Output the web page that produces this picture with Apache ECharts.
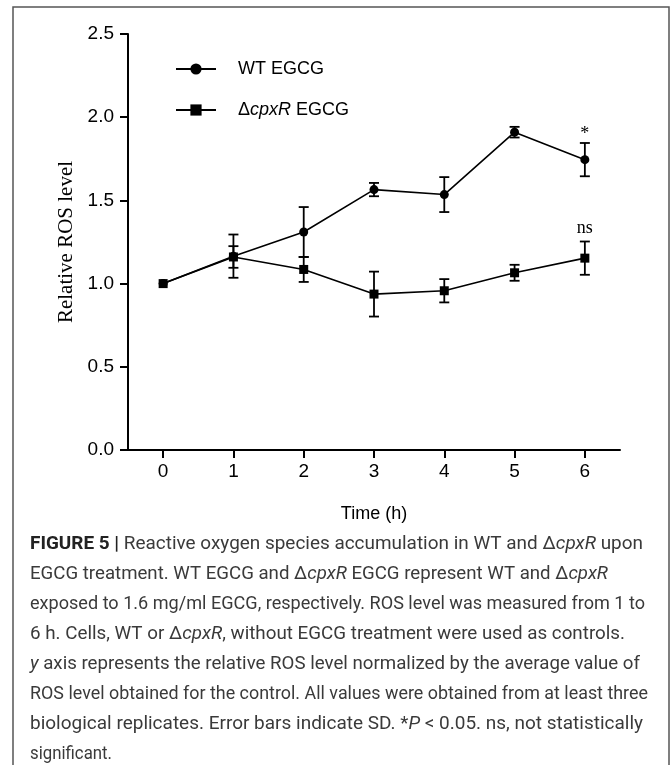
<!DOCTYPE html>
<html>
<head>
<meta charset="utf-8">
<script src="https://cdn.jsdelivr.net/npm/echarts@6/dist/echarts.min.js"></script>
<style>
html,body{margin:0;padding:0;background:#fff;}
#chart{width:672px;height:765px;}
</style>
</head>
<body>
<div id="chart"></div>
<script>
// ---- data ----
const times = ['0', '1', '2', '3', '4', '5', '6'];
const wtMean = [1.00, 1.165, 1.31, 1.565, 1.535, 1.91, 1.745];
const wtSD   = [0, 0.13, 0.15, 0.04, 0.105, 0.032, 0.10];
const cpxMean = [1.00, 1.16, 1.085, 0.937, 0.957, 1.065, 1.153];
const cpxSD   = [0, 0.065, 0.075, 0.135, 0.07, 0.048, 0.10];
const yTicks = [0, 0.5, 1.0, 1.5, 2.0, 2.5];
const seriesNames = ['WT EGCG', '\u0394cpxR EGCG'];
// annotations: [time index, series ('wt'|'cpx'), label]
const annotations = [[6, 'wt', '*'], [6, 'cpx', 'ns']];
const captionLines = [
  '{b|FIGURE 5 |} Reactive oxygen species accumulation in WT and \u0394{i|cpxR} upon',
  'EGCG treatment. WT EGCG and \u0394{i|cpxR} EGCG represent WT and \u0394{i|cpxR}',
  'exposed to 1.6 mg/ml EGCG, respectively. ROS level was measured from 1 to',
  '6 h. Cells, WT or \u0394{i|cpxR}, without EGCG treatment were used as controls.',
  '{i|y} axis represents the relative ROS level normalized by the average value of',
  'ROS level obtained for the control. All values were obtained from at least three',
  'biological replicates. Error bars indicate SD. *{i|P} < 0.05. ns, not statistically',
  'significant.'
];
// right end (px) of each caption line in the reference layout
const captionLineEnds = [643, 608, 645, 625, 640, 648, 643, 112];

// ---- caption font ----
const cv = document.createElement('canvas').getContext('2d');
function hasFont(f) {
  cv.font = '20px "' + f + '", monospace';
  const a = cv.measureText('abcdefghijklmnopqrstuvwxyz WT EGCG').width;
  cv.font = '20px monospace';
  const b = cv.measureText('abcdefghijklmnopqrstuvwxyz WT EGCG').width;
  return Math.abs(a - b) > 0.5;
}
const capFont = hasFont('Liberation Sans Narrow') ? 'Liberation Sans Narrow' : 'Roboto';
const capSize = 19;
const capLeft = 30, capTop = 544, capStep = 30.1;

function toRich(s) {
  const parts = [];
  const re = /\{([a-z])\|([^}]*)\}/g;
  let last = 0, m;
  while ((m = re.exec(s)) !== null) {
    if (m.index > last) parts.push('{n|' + s.slice(last, m.index) + '}');
    parts.push('{' + m[1] + '|' + m[2] + '}');
    last = re.lastIndex;
  }
  if (last < s.length) parts.push('{n|' + s.slice(last) + '}');
  return parts.join('');
}
function measureLine(s) {
  const re = /\{([a-z])\|([^}]*)\}/g;
  let w = 0, m;
  const r = toRich(s);
  while ((m = re.exec(r)) !== null) {
    const wt = m[1] === 'b' ? 'bold ' : (m[1] === 'i' ? 'italic ' : '');
    cv.font = wt + capSize + 'px "' + capFont + '"';
    w += cv.measureText(m[2]).width;
  }
  return w;
}
const capRich = {
  n: {fontFamily: capFont, fontSize: capSize, fill: '#3a3a3a'},
  i: {fontFamily: capFont, fontSize: capSize, fill: '#3a3a3a', fontStyle: 'italic'},
  b: {fontFamily: capFont, fontSize: capSize, fill: '#222', fontWeight: 'bold'}
};
const captionGraphics = captionLines.map((ln, k) => {
  const w = measureLine(ln);
  const sx = (captionLineEnds[k] - capLeft) / w;
  return {
    type: 'text',
    x: capLeft,
    y: capTop + k * capStep,
    scaleX: sx,
    silent: true,
    style: {text: toRich(ln), rich: capRich, x: 0, y: 0, verticalAlign: 'middle',
            font: capSize + 'px "' + capFont + '"', fill: '#3a3a3a'}
  };
});

// ---- error bars ----
function errData(mean, sd) {
  const out = [];
  mean.forEach((m, i) => { if (sd[i] > 0) out.push([i, m - sd[i], m + sd[i]]); });
  return out;
}
function errRender(params, api) {
  const x = api.value(0);
  const lo = api.coord([x, api.value(1)]);
  const hi = api.coord([x, api.value(2)]);
  const hw = 5;
  const st = {stroke: '#000', lineWidth: 1.8};
  return {
    type: 'group',
    children: [
      {type: 'line', shape: {x1: hi[0], y1: hi[1], x2: lo[0], y2: lo[1]}, style: st},
      {type: 'line', shape: {x1: hi[0] - hw, y1: hi[1], x2: hi[0] + hw, y2: hi[1]}, style: st},
      {type: 'line', shape: {x1: lo[0] - hw, y1: lo[1], x2: lo[0] + hw, y2: lo[1]}, style: st}
    ]
  };
}
const annOffset = {'*': 9, 'ns': 13};
const annData = annotations.map(a => {
  const i = a[0];
  const top = a[1] === 'wt' ? wtMean[i] + wtSD[i] : cpxMean[i] + cpxSD[i];
  return [i, top, a[2]];
});

const chart = echarts.init(document.getElementById('chart'), null, {renderer: 'canvas'});
const SANS = '"Liberation Sans", Arial, sans-serif';
const SERIF = '"Liberation Serif", "Times New Roman", serif';
const tickFont = {fontFamily: SANS, fontSize: 19, color: '#000'};

chart.setOption({
  animation: false,
  backgroundColor: '#fff',
  grid: {left: 128, right: 52, top: 34, bottom: 315},
  legend: {
    orient: 'vertical',
    left: 170,
    top: 55,
    itemWidth: 40,
    itemHeight: 14,
    itemGap: 23,
    data: seriesNames,
    textStyle: {
      fontFamily: SANS, fontSize: 18, color: '#000',
      padding: [0, 0, 0, 17],
      rich: {
        n: {fontFamily: SANS, fontSize: 18, color: '#000'},
        i: {fontFamily: SANS, fontSize: 18, color: '#000', fontStyle: 'italic'}
      }
    },
    formatter: function (name) {
      if (name.indexOf('cpxR') >= 0) return '{n|\u0394}{i|cpxR}{n| EGCG}';
      return '{n|' + name + '}';
    }
  },
  xAxis: {
    type: 'category',
    data: times,
    boundaryGap: true,
    name: 'Time (h)',
    nameLocation: 'middle',
    nameGap: 55,
    nameTextStyle: {fontFamily: SANS, fontSize: 18, color: '#000'},
    axisLine: {show: true, lineStyle: {color: '#000', width: 2}},
    axisTick: {show: true, alignWithLabel: true, length: 8, lineStyle: {color: '#000', width: 2}},
    axisLabel: Object.assign({margin: 12}, tickFont),
    splitLine: {show: false}
  },
  yAxis: {
    type: 'value',
    min: yTicks[0],
    max: yTicks[yTicks.length - 1],
    interval: 0.5,
    name: 'Relative ROS level',
    nameLocation: 'middle',
    nameGap: 49,
    nameTextStyle: {fontFamily: SERIF, fontSize: 21, color: '#000'},
    axisLine: {show: true, lineStyle: {color: '#000', width: 2}},
    axisTick: {show: true, length: 8, lineStyle: {color: '#000', width: 2}},
    axisLabel: Object.assign({margin: 14, formatter: v => v.toFixed(1)}, tickFont),
    splitLine: {show: false}
  },
  series: [
    {
      name: seriesNames[0], type: 'line', data: wtMean,
      symbol: 'circle', symbolSize: 9,
      lineStyle: {color: '#000', width: 1.6},
      itemStyle: {color: '#000'},
      z: 3
    },
    {
      name: seriesNames[1], type: 'line', data: cpxMean,
      symbol: 'rect', symbolSize: 9,
      lineStyle: {color: '#000', width: 1.6},
      itemStyle: {color: '#000'},
      z: 3
    },
    {type: 'custom', data: errData(wtMean, wtSD), renderItem: errRender, z: 2, silent: true},
    {type: 'custom', data: errData(cpxMean, cpxSD), renderItem: errRender, z: 2, silent: true},
    {
      type: 'custom', data: annData, silent: true, z: 4,
      renderItem: function (params, api) {
        const p = api.coord([api.value(0), api.value(1)]);
        const label = annData[params.dataIndex][2];
        return {
          type: 'text',
          style: {
            text: label, x: p[0], y: p[1] - annOffset[label],
            align: 'center', verticalAlign: 'middle',
            font: '18px ' + SERIF, fill: '#000'
          }
        };
      }
    }
  ],
  graphic: [
    {type: 'rect', x: 13, y: 7, silent: true, z: -1,
     shape: {x: 0, y: 0, width: 656, height: 820}, style: {fill: 'none', stroke: '#555', lineWidth: 1.5}}
  ].concat(captionGraphics)
});
</script>
</body>
</html>
